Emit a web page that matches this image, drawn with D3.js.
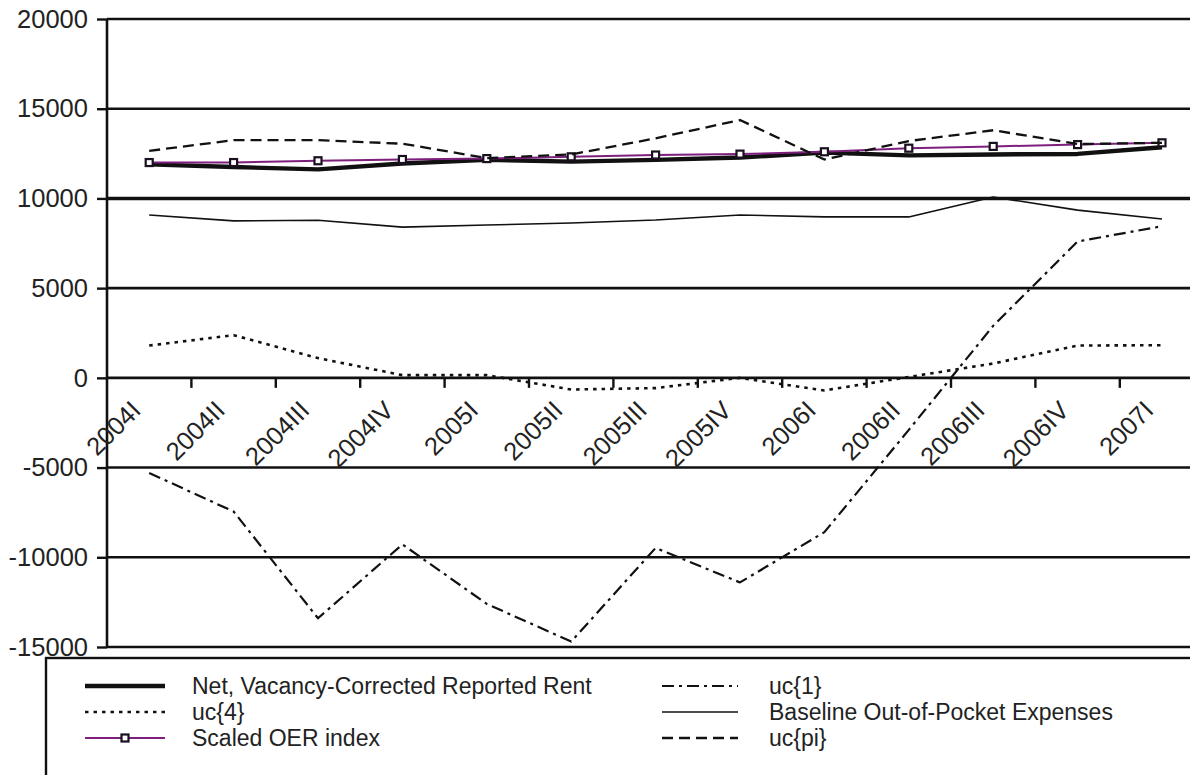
<!DOCTYPE html>
<html>
<head>
<meta charset="utf-8">
<script src="https://cdn.jsdelivr.net/npm/d3@7"></script>
<style>
  html, body { margin: 0; padding: 0; background: #fff; }
  svg { display: block; font-family: "Liberation Sans", Arial, sans-serif; }
</style>
</head>
<body>
<svg id="chart" width="1190" height="775"></svg>
<script>
// Quarterly categories
const quarters = ["2004I", "2004II", "2004III", "2004IV", "2005I", "2005II", "2005III",
                  "2005IV", "2006I", "2006II", "2006III", "2006IV", "2007I"];

// Series values (dollars per year)
const netRent   = [11900, 11750, 11620, 11950, 12150, 12050, 12150, 12280, 12550, 12400, 12450, 12480, 12850];
const uc1       = [-5300, -7450, -13400, -9280, -12600, -14700, -9480, -11400, -8600, -2900, 2900, 7600, 8450];
const uc4       = [1800, 2380, 1100, 150, 150, -650, -570, 0, -700, 50, 800, 1800, 1820];
const baseline  = [9080, 8750, 8780, 8400, 8520, 8630, 8800, 9080, 8970, 8970, 10080, 9350, 8850];
const oerIndex  = [12000, 12000, 12100, 12170, 12220, 12320, 12420, 12470, 12600, 12800, 12900, 13000, 13100];
const ucPi      = [12650, 13250, 13250, 13050, 12250, 12450, 13350, 14370, 12170, 13200, 13800, 13030, 13100];

const yTicks = [-15000, -10000, -5000, 0, 5000, 10000, 15000, 20000];

// Series definitions, in drawing order
const series = [
  { name: "Net, Vacancy-Corrected Reported Rent", values: netRent,  stroke: "#111", width: 4.4, dash: null },
  { name: "uc{1}",                                values: uc1,      stroke: "#111", width: 2.2, dash: "12,5,3,5" },
  { name: "uc{4}",                                values: uc4,      stroke: "#111", width: 2.6, dash: "3.5,5" },
  { name: "Baseline Out-of-Pocket Expenses",      values: baseline, stroke: "#111", width: 1.6, dash: null },
  { name: "Scaled OER index",                     values: oerIndex, stroke: "#7d1f7d", width: 2, dash: null, marker: true },
  { name: "uc{pi}",                               values: ucPi,     stroke: "#111", width: 2.3, dash: "11,6" }
];

const svg = d3.select("#chart");
svg.append("rect").attr("width", 1190).attr("height", 775).attr("fill", "#fff");

const plotLeft = 107, plotTop = 19, plotBottom = 647;
const bandW = 84.4;
const x = d3.scaleBand().domain(quarters).range([plotLeft, plotLeft + bandW * quarters.length]).padding(0);
const cx = q => x(q) + x.bandwidth() / 2;
const y = d3.scaleLinear().domain([-15000, 20000]).range([plotBottom, plotTop]);

// Horizontal gridlines
svg.append("g").selectAll("line").data(yTicks).join("line")
  .attr("x1", plotLeft).attr("x2", 1200)
  .attr("y1", d => y(d)).attr("y2", d => y(d))
  .attr("stroke", "#111")
  .attr("stroke-width", d => d === 10000 ? 3.6 : 2.6);

// Y axis with outer ticks (plain hyphen for negatives)
const yAxis = svg.append("g").attr("transform", `translate(${plotLeft},0)`)
  .call(d3.axisLeft(y).tickValues(yTicks).tickSize(10).tickPadding(9).tickFormat(d => String(d)));
yAxis.select(".domain").attr("stroke", "#111").attr("stroke-width", 2.6).attr("d", `M0,${plotTop}V${plotBottom}`);
yAxis.selectAll(".tick line").attr("stroke", "#111").attr("stroke-width", 2.4);
yAxis.selectAll(".tick text").attr("font-size", 25.5).attr("fill", "#222")
  .attr("font-family", "Liberation Sans, Arial, sans-serif");

// Category axis at zero: tick marks at band boundaries, labels rotated
const y0 = y(0);
svg.append("g").selectAll("line").data(quarters.slice(1)).join("line")
  .attr("x1", d => x(d)).attr("x2", d => x(d))
  .attr("y1", y0).attr("y2", y0 + 10)
  .attr("stroke", "#111").attr("stroke-width", 2.4);

svg.append("g").selectAll("text").data(quarters).join("text")
  .attr("transform", d => `translate(${cx(d) - 7},${y0 + 34}) rotate(-45)`)
  .attr("text-anchor", "end")
  .attr("font-size", 25.5).attr("fill", "#222")
  .text(d => d);

// Series lines
const line = d3.line().x((d, i) => cx(quarters[i])).y(d => y(d));
series.forEach(s => {
  svg.append("path").datum(s.values)
    .attr("d", line)
    .attr("fill", "none")
    .attr("stroke", s.stroke)
    .attr("stroke-width", s.width)
    .attr("stroke-dasharray", s.dash)
    .attr("stroke-linejoin", "round");
  if (s.marker) {
    svg.append("g").selectAll("rect").data(s.values).join("rect")
      .attr("x", (d, i) => cx(quarters[i]) - 3.5)
      .attr("y", d => y(d) - 3.5)
      .attr("width", 7).attr("height", 7)
      .attr("fill", "#fff").attr("stroke", "#1a1020").attr("stroke-width", 2.2);
  }
});

// Legend
const lg = svg.append("g");
lg.append("rect").attr("x", 46).attr("y", 658).attr("width", 1200).attr("height", 200)
  .attr("fill", "#fff").attr("stroke", "#111").attr("stroke-width", 2.4);

const legendOrder = [0, 1, 2, 3, 4, 5];
const rowY = [686, 712, 738];
legendOrder.forEach((si, k) => {
  const s = series[si];
  const col = k % 2, row = Math.floor(k / 2);
  const lx1 = col === 0 ? 85 : 662, lx2 = col === 0 ? 165 : 738;
  const tx = col === 0 ? 192 : 769;
  const ly = rowY[row];
  lg.append("line").attr("x1", lx1).attr("x2", lx2).attr("y1", ly).attr("y2", ly)
    .attr("stroke", s.stroke).attr("stroke-width", s.width)
    .attr("stroke-dasharray", s.dash);
  if (s.marker) {
    lg.append("rect").attr("x", (lx1 + lx2) / 2 - 3.5).attr("y", ly - 3.5)
      .attr("width", 7).attr("height", 7)
      .attr("fill", "#fff").attr("stroke", "#1a1020").attr("stroke-width", 2.2);
  }
  lg.append("text").attr("x", tx).attr("y", ly).attr("dy", "0.35em")
    .attr("font-size", 23).attr("fill", "#222").text(s.name);
});
</script>
</body>
</html>
